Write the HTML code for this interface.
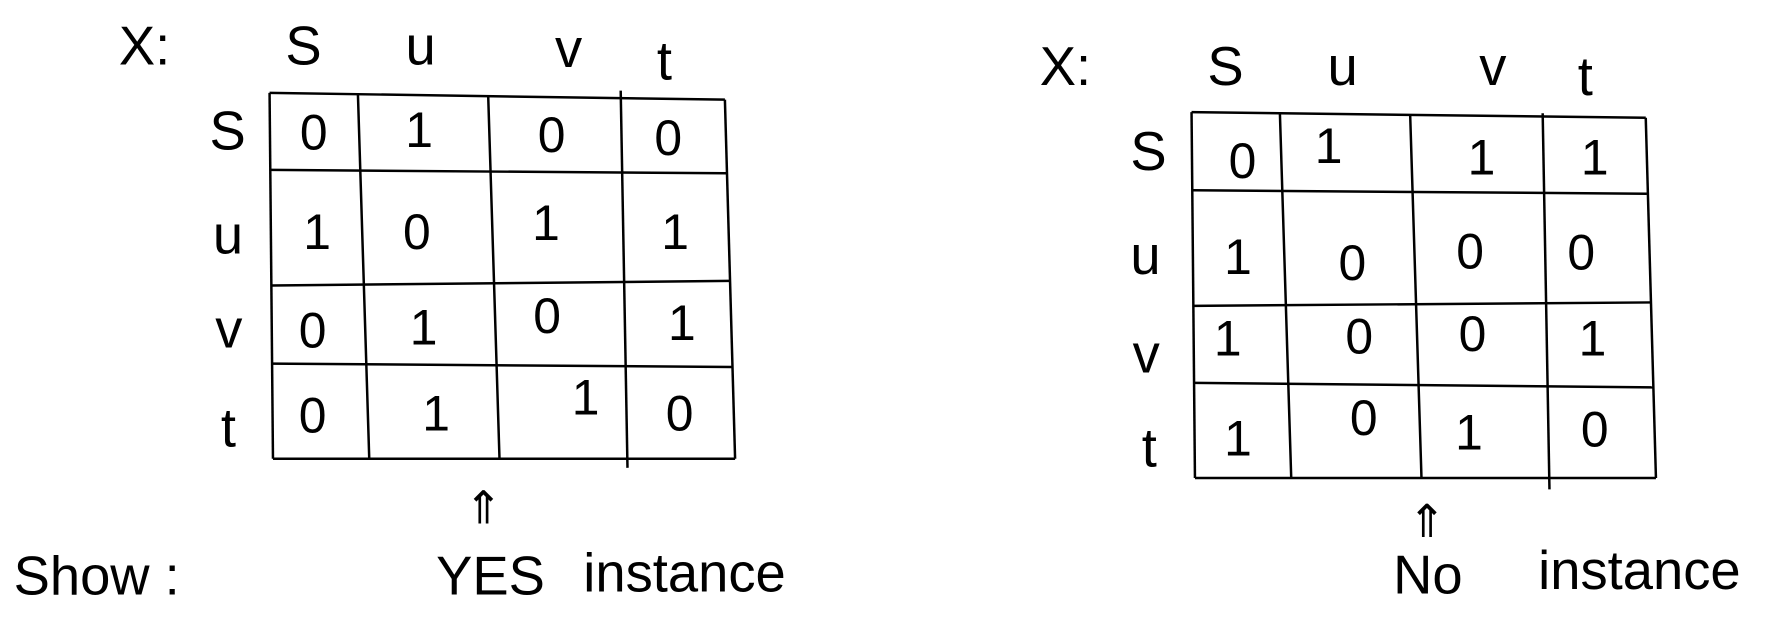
<!DOCTYPE html>
<html><head><style>html,body{margin:0;padding:0;background:#fff;width:1776px;height:623px;overflow:hidden}</style></head>
<body>
<svg width="1776" height="623" viewBox="0 0 1568 550" preserveAspectRatio="none" xmlns="http://www.w3.org/2000/svg">
<g stroke="#000" stroke-width="2.2" fill="none">
<line x1="238" y1="82" x2="640" y2="88"/>
<line x1="239" y1="150" x2="641" y2="153"/>
<line x1="240" y1="252" x2="644" y2="248"/>
<line x1="240" y1="321" x2="646" y2="324"/>
<line x1="241" y1="405" x2="649" y2="405"/>
<line x1="238" y1="82" x2="241" y2="405"/>
<line x1="316" y1="83" x2="326" y2="405"/>
<line x1="431" y1="84" x2="441" y2="405"/>
<line x1="548" y1="80" x2="554" y2="413"/>
<line x1="640" y1="88" x2="649" y2="405"/>
<line x1="1052" y1="99" x2="1453" y2="104"/>
<line x1="1053" y1="168" x2="1454" y2="171"/>
<line x1="1054" y1="270" x2="1457" y2="267"/>
<line x1="1055" y1="338" x2="1459" y2="342"/>
<line x1="1055" y1="422" x2="1462" y2="422"/>
<line x1="1052" y1="99" x2="1055" y2="422"/>
<line x1="1130" y1="100" x2="1140" y2="422"/>
<line x1="1245" y1="101" x2="1255" y2="422"/>
<line x1="1362" y1="100" x2="1368" y2="432"/>
<line x1="1453" y1="104" x2="1462" y2="422"/>
</g>
<g font-family="Liberation Sans, sans-serif" font-size="48" fill="#000" font-weight="normal">
<text x="105" y="57">X:</text><text x="252" y="57">S</text><text x="358" y="57">u</text><text x="490" y="59">v</text><text x="580" y="70">t</text>
<text x="185" y="132">S</text><text x="188" y="224">u</text><text x="190" y="307">v</text><text x="195" y="394">t</text>
<text x="918" y="75">X:</text><text x="1066" y="75">S</text><text x="1172" y="75">u</text><text x="1306" y="75">v</text><text x="1393" y="84">t</text>
<text x="998" y="150">S</text><text x="998" y="242">u</text><text x="1000" y="329">v</text><text x="1008" y="412">t</text>
<text x="12" y="525">Show :</text>
<text x="385" y="525">YES</text><text x="515" y="522">instance</text>
<text x="1230" y="524">No</text><text x="1358" y="520">instance</text>
<text x="410" y="462" font-size="40">⇑</text><text x="1243" y="474" font-size="40">⇑</text>
</g>
<g font-family="Liberation Sans, sans-serif" font-size="44" fill="#000" text-anchor="middle">
<text x="277" y="132">0</text><text x="370" y="130">1</text><text x="487" y="134">0</text><text x="590" y="137">0</text>
<text x="280" y="220">1</text><text x="368" y="220">0</text><text x="482" y="212">1</text><text x="596" y="220">1</text>
<text x="276" y="307">0</text><text x="374" y="304">1</text><text x="483" y="294">0</text><text x="602" y="300">1</text>
<text x="276" y="382">0</text><text x="385" y="380">1</text><text x="517" y="366">1</text><text x="600" y="380">0</text>
<text x="1097" y="157">0</text><text x="1173" y="144">1</text><text x="1308" y="154">1</text><text x="1408" y="154">1</text>
<text x="1093" y="242">1</text><text x="1194" y="247">0</text><text x="1298" y="237">0</text><text x="1396" y="238">0</text>
<text x="1084" y="314">1</text><text x="1200" y="312">0</text><text x="1300" y="310">0</text><text x="1406" y="314">1</text>
<text x="1093" y="402">1</text><text x="1204" y="384">0</text><text x="1297" y="397">1</text><text x="1408" y="394">0</text>
</g>
</svg>
</body></html>
